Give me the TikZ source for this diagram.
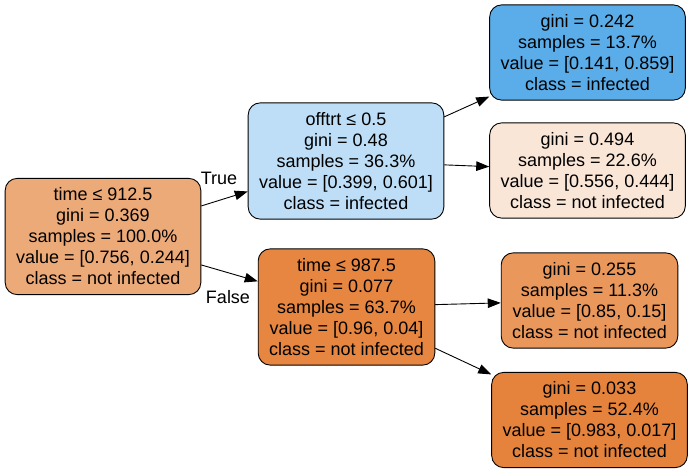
\documentclass[tikz,border=0pt]{standalone}
\usepackage{fontspec}
\setmainfont{Liberation Sans}
\usepackage{tikz}
\usetikzlibrary{arrows.meta}

\tikzset{
  treenode/.style={draw=black,line width=0.9pt,rounded corners=12pt,align=center,inner xsep=11pt,inner ysep=9.5pt},
  treeedge/.style={draw=black,line width=0.9pt,-{Triangle[length=13pt,width=9.5pt]}},
  edgelabel/.style={inner sep=0pt}
}

\begin{document}
\begin{tikzpicture}[x=1pt,y=1pt,font=\fontsize{18}{21}\selectfont]
\definecolor{fillColor}{RGB}{255,255,255}
\definecolor{rootColor}{RGB}{237,170,121}
\definecolor{leftColor}{RGB}{189,222,246}
\definecolor{rightColor}{RGB}{230,134,65}
\definecolor{leafAColor}{RGB}{90,173,233}
\definecolor{leafBColor}{RGB}{250,230,215}
\definecolor{leafCColor}{RGB}{234,151,92}
\definecolor{leafDColor}{RGB}{229,131,60}
\path[use as bounding box,fill=fillColor] (0,0) rectangle (693,472);

\node[treenode,fill=rootColor] (n0) at (103,235.5) {time ≤ 912.5\\gini = 0.369\\samples = 100.0\%\\value = [0.756, 0.244]\\class = not infected};

\node[treenode,fill=leftColor] (n1) at (346,311) {offtrt ≤ 0.5\\gini = 0.48\\samples = 36.3\%\\value = [0.399, 0.601]\\class = infected};

\node[treenode,fill=rightColor] (n4) at (346.5,165) {time ≤ 987.5\\gini = 0.077\\samples = 63.7\%\\value = [0.96, 0.04]\\class = not infected};

\node[treenode,fill=leafAColor] (n2) at (587.5,419.5) {gini = 0.242\\samples = 13.7\%\\value = [0.141, 0.859]\\class = infected};

\node[treenode,fill=leafBColor] (n3) at (587.5,301.5) {gini = 0.494\\samples = 22.6\%\\value = [0.556, 0.444]\\class = not infected};

\node[treenode,fill=leafCColor] (n5) at (589.5,171.5) {gini = 0.255\\samples = 11.3\%\\value = [0.85, 0.15]\\class = not infected};

\node[treenode,fill=leafDColor] (n6) at (589.5,52) {gini = 0.033\\samples = 52.4\%\\value = [0.983, 0.017]\\class = not infected};

\path[treeedge] (n0) -- (n1);
\path[treeedge] (n0) -- (n4);
\path[treeedge] (n1) -- (n2);
\path[treeedge] (n1) -- (n3);
\path[treeedge] (n4) -- (n5);
\path[treeedge] (n4) -- (n6);

\node[edgelabel] (lTrue) at (219,294) {True};
\node[edgelabel] (lFalse) at (228,175) {False};
\end{tikzpicture}
\end{document}
